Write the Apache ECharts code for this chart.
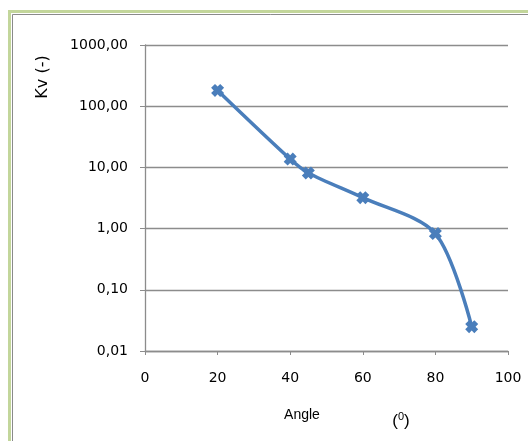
<!DOCTYPE html>
<html>
<head>
<meta charset="utf-8">
<script src="https://cdn.jsdelivr.net/npm/echarts@6/dist/echarts.min.js"></script>
<style>
  html, body { margin: 0; padding: 0; background: #fff; }
  #chart { width: 528px; height: 441px; }
</style>
</head>
<body>
<div id="chart"></div>
<script>
// angle (degrees) and Kv values
var angles = [20, 40, 45, 60, 80, 90];
var kv = [181, 13.7, 8.1, 3.2, 0.83, 0.025];
var xTicks = [0, 20, 40, 60, 80, 100];

var points = angles.map(function (a, i) { return [a, kv[i]]; });

// chunky Excel style "X" marker
var xMarker = 'path://M3,0 L5,2 L7,0 L10,3 L8,5 L10,7 L7,10 L5,8 L3,10 L0,7 L2,5 L0,3 Z';

var gray = '#8c8c8c';

var option = {
  backgroundColor: '#fff',
  animation: false,
  grid: { left: 145, right: 20, top: 45, bottom: 90 },
  xAxis: {
    type: 'value',
    min: xTicks[0],
    max: xTicks[xTicks.length - 1],
    interval: 20,
    splitLine: { show: false },
    axisLine: { onZero: false, lineStyle: { color: gray, width: 1.3 } },
    axisTick: { show: true, length: 4, lineStyle: { color: gray } },
    axisLabel: { margin: 20, color: '#000', fontFamily: 'DejaVu Sans', fontSize: 14 }
  },
  yAxis: {
    type: 'log',
    logBase: 10,
    min: 0.01,
    max: 1000,
    axisLine: { show: true, lineStyle: { color: gray, width: 1.3 } },
    axisTick: { show: true, length: 5, lineStyle: { color: gray } },
    splitLine: { show: true, lineStyle: { color: gray, width: 1.3 } },
    axisLabel: {
      margin: 17, color: '#000', fontFamily: 'DejaVu Sans', fontSize: 14,
      formatter: function (v) { return Number(v).toFixed(2).replace('.', ','); }
    }
  },
  series: [{
    type: 'line',
    data: points,
    smooth: 0.3,
    symbol: xMarker,
    symbolSize: 13,
    lineStyle: { color: '#4a7ebb', width: 3.5 },
    itemStyle: { color: '#4a7ebb' }
  }],
  graphic: [
    { type: 'rect', shape: { x: 9.5, y: 11.5, width: 700, height: 700 },
      style: { fill: 'none', stroke: '#c3d69b', lineWidth: 3 }, silent: true },
    { type: 'rect', shape: { x: 12.5, y: 14.5, width: 700, height: 700 },
      style: { fill: 'none', stroke: '#8a8a8a', lineWidth: 1 }, silent: true },
    { type: 'text', x: 43, y: 77, rotation: Math.PI / 2,
      style: { text: 'Kv (-)', font: '16px "DejaVu Sans"', fill: '#000', align: 'center', verticalAlign: 'middle' } },
    { type: 'text', x: 302, y: 415,
      style: { text: 'Angle', font: '14px "Liberation Sans"', fill: '#000', align: 'center', verticalAlign: 'middle' } },
    { type: 'text', x: 401, y: 421,
      style: {
        text: '({s|0})',
        font: '17px "Liberation Sans"', fill: '#000', align: 'center', verticalAlign: 'middle',
        rich: { s: { fontSize: 11, fontFamily: 'Liberation Sans', verticalAlign: 'top', padding: [0, 0, 8, 0] } }
      } }
  ]
};

var myChart = echarts.init(document.getElementById('chart'));
myChart.setOption(option);
</script>
</body>
</html>
